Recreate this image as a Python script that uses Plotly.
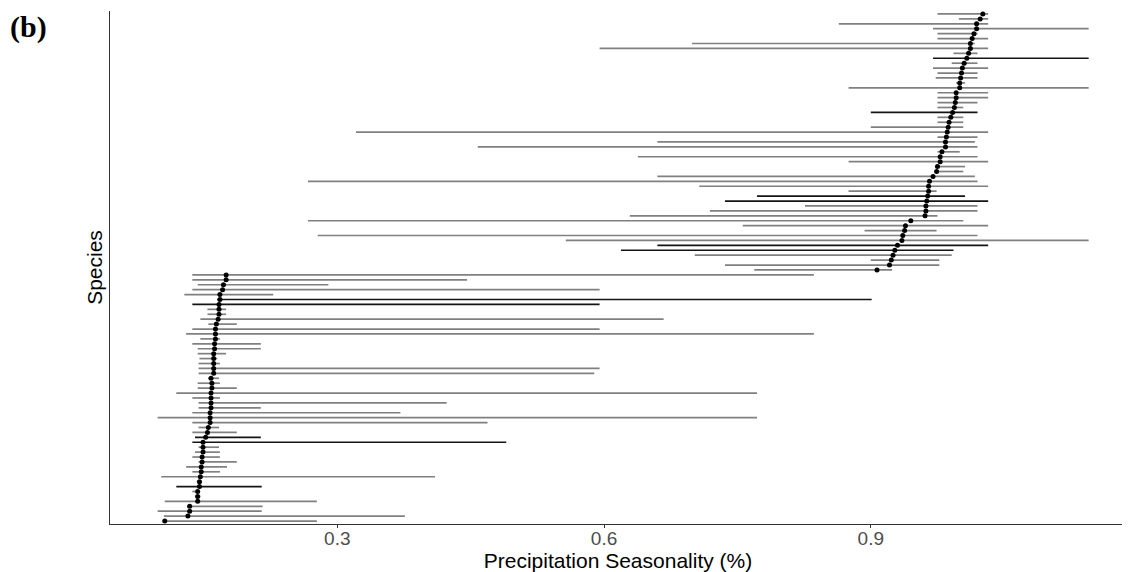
import plotly.graph_objects as go

# Rows listed top-to-bottom as drawn in the chart
mean_val = [1.026, 1.023, 1.019, 1.019, 1.016, 1.014, 1.012, 1.012, 1.010, 1.008,
            1.005, 1.003, 1.002, 1.001, 1.000, 1.000, 0.996, 0.996, 0.995, 0.994,
            0.992, 0.990, 0.988, 0.987, 0.986, 0.985, 0.984, 0.984, 0.980, 0.978,
            0.978, 0.975, 0.974, 0.970, 0.966, 0.965, 0.965, 0.964, 0.963, 0.962,
            0.962, 0.961, 0.945, 0.939, 0.938, 0.936, 0.935, 0.930, 0.927, 0.925,
            0.923, 0.921, 0.907,
            0.175, 0.175, 0.172, 0.171, 0.168, 0.168, 0.167, 0.167, 0.167, 0.166,
            0.164, 0.163, 0.163, 0.163, 0.162, 0.162, 0.161, 0.161, 0.161, 0.161,
            0.161, 0.158, 0.159, 0.159, 0.158, 0.158, 0.158, 0.158, 0.157, 0.157,
            0.157, 0.155, 0.154, 0.152, 0.149, 0.149, 0.149, 0.148, 0.148, 0.147,
            0.147, 0.146, 0.145, 0.145, 0.143, 0.143, 0.143, 0.134, 0.134, 0.132,
            0.106]
low_val = [0.975, 0.999, 0.864, 0.970, 0.975, 0.975, 0.699, 0.595, 0.993, 0.970,
           0.991, 0.970, 0.975, 0.973, 0.996, 0.875, 0.975, 0.975, 0.975, 0.975,
           0.900, 0.975, 0.975, 0.900, 0.321, 0.975, 0.660, 0.458, 0.975, 0.638,
           0.875, 0.974, 0.972, 0.660, 0.267, 0.707, 0.875, 0.772, 0.736, 0.826,
           0.719, 0.629, 0.267, 0.756, 0.893, 0.278, 0.557, 0.660, 0.619, 0.702,
           0.900, 0.736, 0.769,
           0.137, 0.137, 0.143, 0.137, 0.128, 0.165, 0.137, 0.154, 0.154, 0.146,
           0.155, 0.137, 0.130, 0.146, 0.137, 0.143, 0.143, 0.145, 0.144, 0.144,
           0.144, 0.155, 0.143, 0.143, 0.119, 0.137, 0.144, 0.144, 0.137, 0.098,
           0.137, 0.144, 0.137, 0.140, 0.137, 0.144, 0.140, 0.137, 0.144, 0.130,
           0.137, 0.102, 0.142, 0.119, 0.137, 0.140, 0.106, 0.131, 0.098, 0.105,
           0.105]
high_val = [1.032, 1.032, 1.032, 1.145, 1.020, 1.032, 1.017, 1.032, 1.020, 1.145,
            1.020, 1.032, 1.020, 1.020, 1.006, 1.145, 1.032, 1.032, 1.020, 1.004,
            1.020, 1.004, 1.004, 1.004, 1.032, 1.020, 1.017, 1.020, 1.000, 1.020,
            1.032, 1.006, 1.004, 1.017, 1.020, 1.032, 0.974, 1.006, 1.032, 1.020,
            1.020, 0.975, 1.004, 1.032, 0.974, 1.020, 1.145, 1.032, 0.993, 0.991,
            0.977, 0.977, 0.924,
            0.836, 0.446, 0.290, 0.595, 0.228, 0.901, 0.595, 0.175, 0.175, 0.667,
            0.187, 0.595, 0.836, 0.168, 0.214, 0.214, 0.175, 0.165, 0.168, 0.595,
            0.589, 0.167, 0.168, 0.187, 0.772, 0.168, 0.423, 0.214, 0.371, 0.772,
            0.469, 0.167, 0.187, 0.214, 0.490, 0.167, 0.168, 0.168, 0.187, 0.176,
            0.168, 0.410, 0.148, 0.215, 0.144, 0.146, 0.277, 0.216, 0.215, 0.376,
            0.277]
# 1 = drawn darker (black) range line
dark_rows = [9, 20, 37, 38, 47, 48, 58, 59, 86, 87, 96]
dark_line = [1 if i in dark_rows else 0 for i in range(len(mean_val))]

n = len(mean_val)
species = [f"sp{i + 1}" for i in range(n)]
x_ticks = [0.3, 0.6, 0.9]

fig = go.Figure()
for flag, col in [(0, "#808080"), (1, "#141414")]:
    xs, ys = [], []
    for i in range(n):
        if dark_line[i] == flag:
            xs += [low_val[i], high_val[i], None]
            ys += [species[i], species[i], None]
    fig.add_trace(go.Scatter(x=xs, y=ys, mode="lines",
                             line=dict(color=col, width=1.7),
                             hoverinfo="skip", showlegend=False))

fig.add_trace(go.Scatter(x=mean_val, y=species, mode="markers",
                         marker=dict(color="black", size=5),
                         showlegend=False))

# page body has an 8px default margin; figure is sized to fill the rest
fig.update_layout(
    width=1122, height=564,
    paper_bgcolor="white", plot_bgcolor="white",
    margin=dict(l=102, r=4, t=3, b=48),
    font=dict(family="Liberation Sans, Arial, sans-serif"),
    xaxis=dict(range=[0.0444, 1.187], tickvals=x_ticks,
               ticktext=[f"{v:.1f}" for v in x_ticks],
               showgrid=False, zeroline=False,
               showline=True, linecolor="#333333", linewidth=1.2,
               ticks="outside", ticklen=3, tickcolor="#333333",
               ticklabelstandoff=-6,
               tickfont=dict(size=19, color="#4d4d4d"),
               title=dict(text="Precipitation Seasonality (%)",
                          font=dict(size=21, color="black"), standoff=0)),
    yaxis=dict(type="category", categoryorder="array",
               categoryarray=species[::-1], range=[-0.6, n - 0.4],
               showgrid=False, zeroline=False, showticklabels=False,
               showline=True, linecolor="#333333", linewidth=1.2, ticks="",
               title=dict(text="Species", font=dict(size=21, color="black"),
                          standoff=0)),
)
fig.add_annotation(text="<b>(b)</b>", xref="paper", yref="paper",
                   x=0, y=1.0, xanchor="left", yanchor="top",
                   xshift=-102, yshift=3, showarrow=False,
                   font=dict(family="Liberation Serif, Times New Roman, serif",
                             size=30, color="black"))

fig.write_html("out.html")
